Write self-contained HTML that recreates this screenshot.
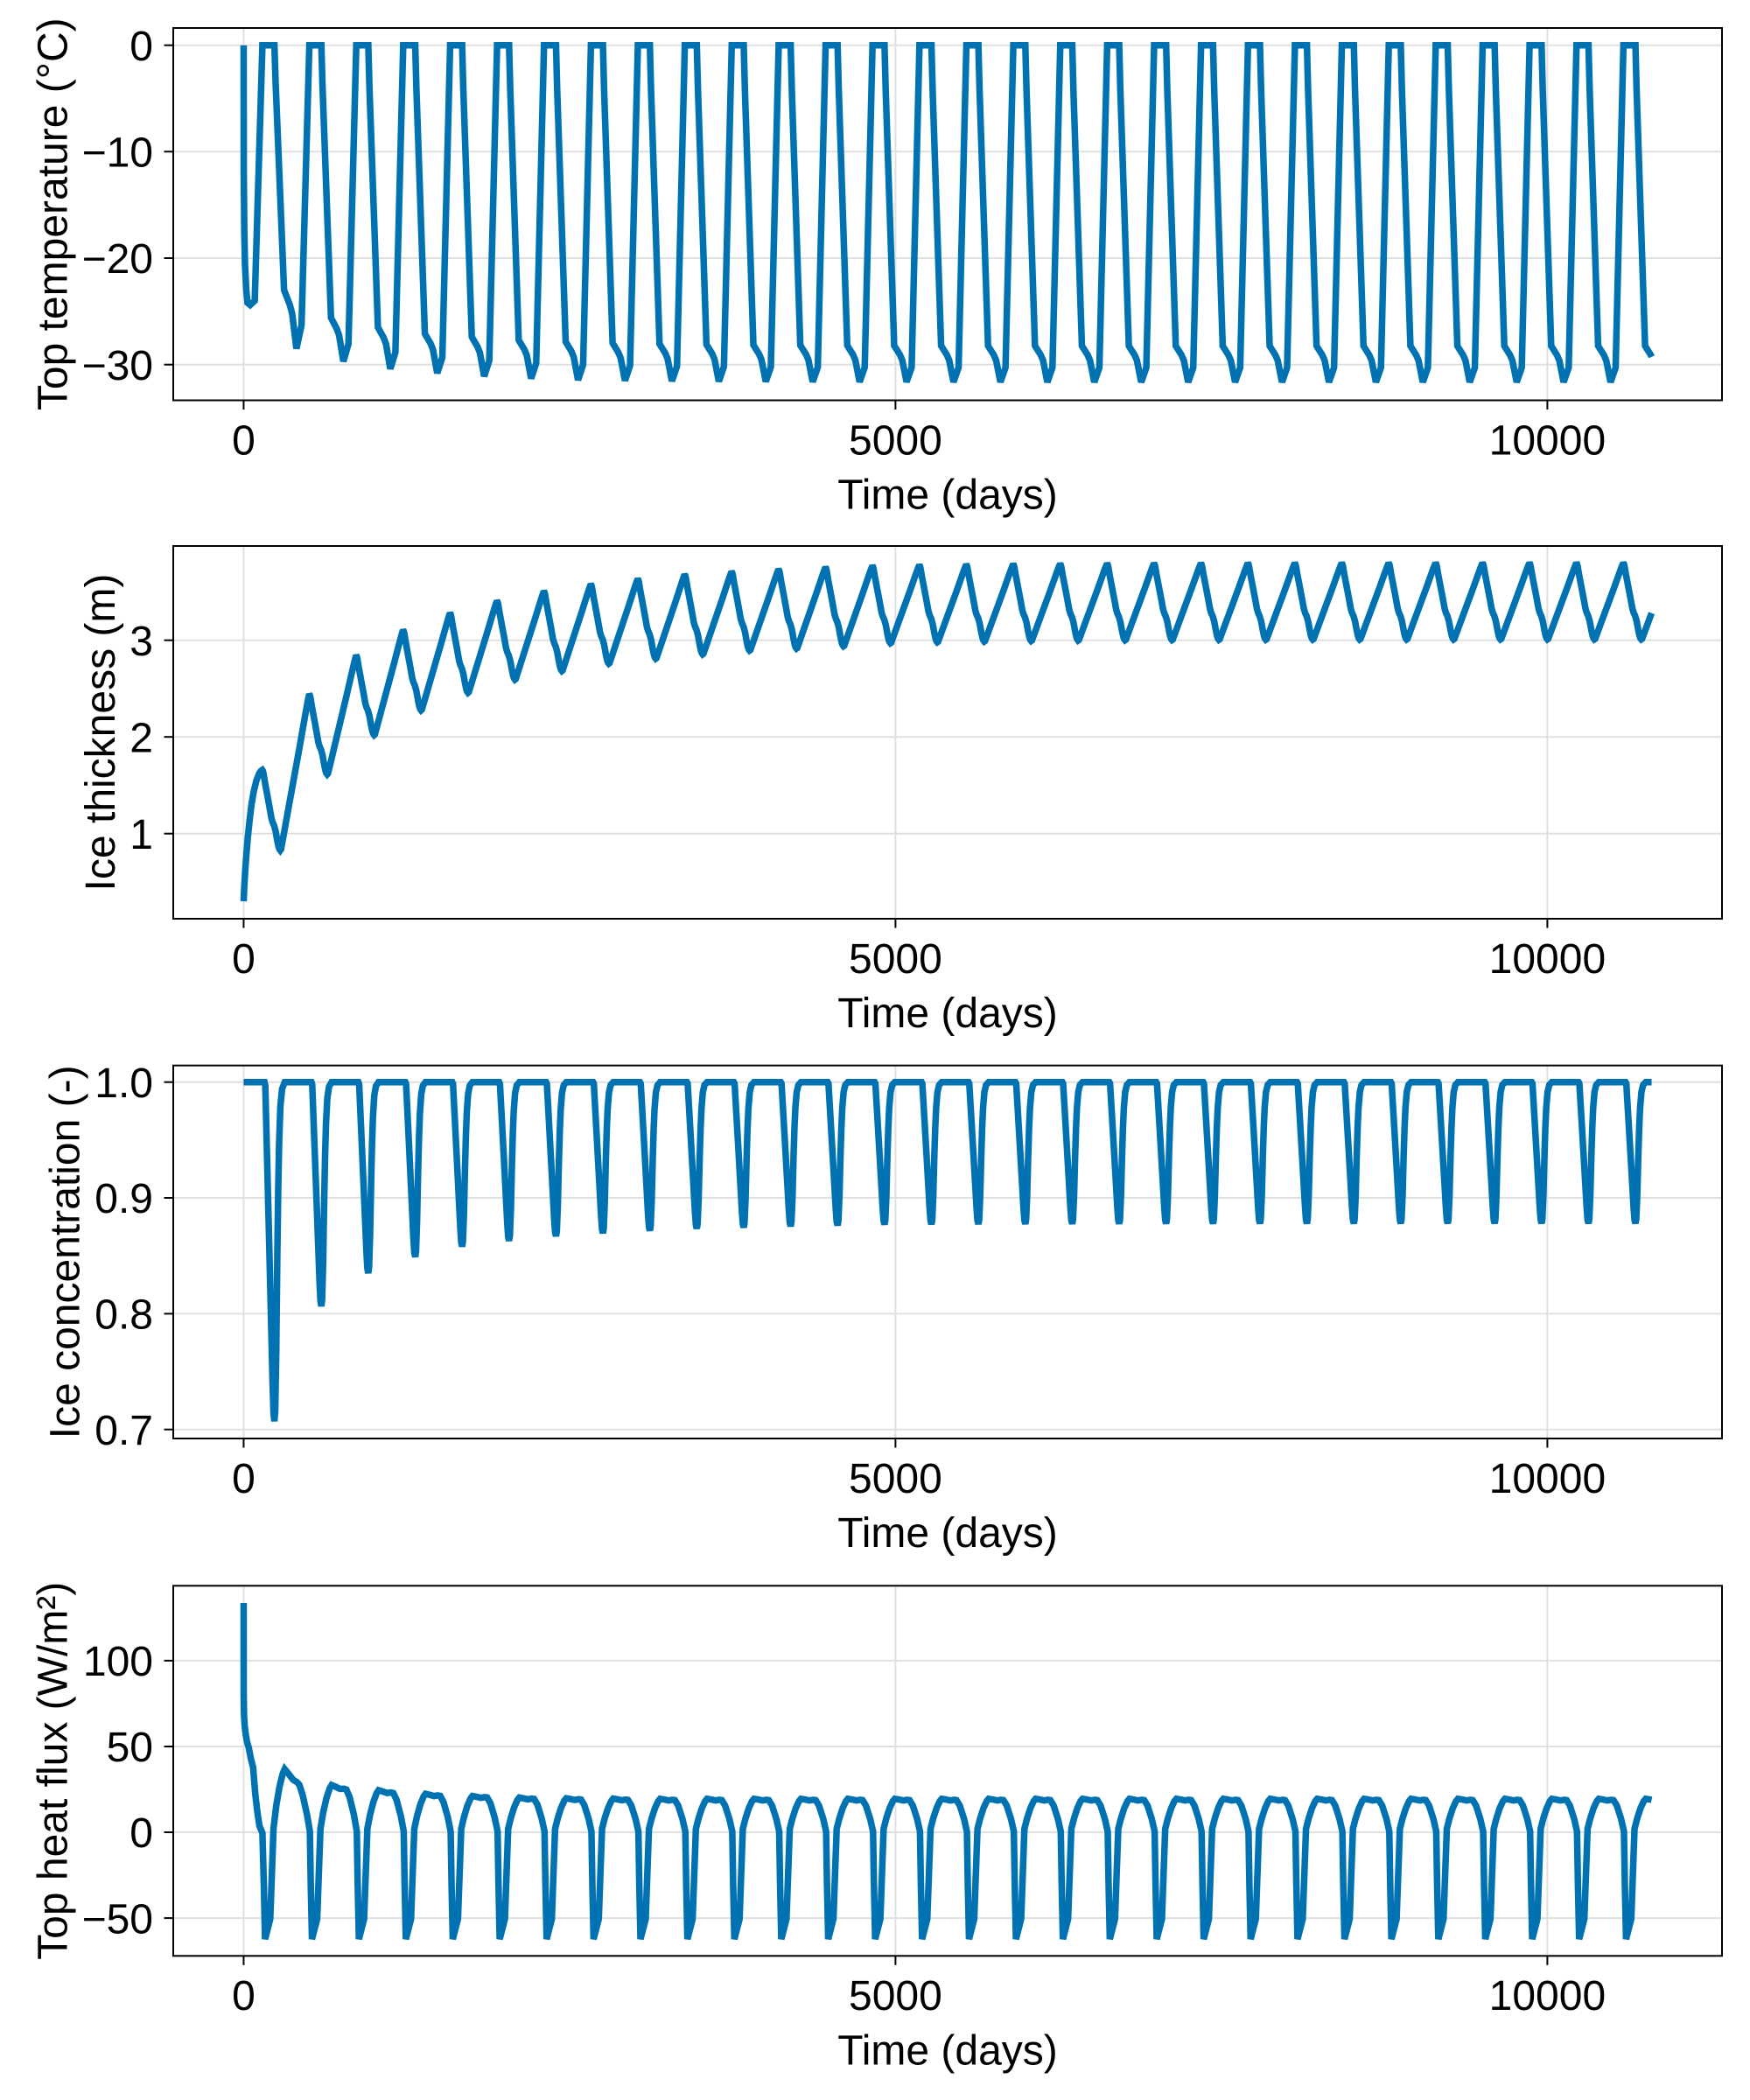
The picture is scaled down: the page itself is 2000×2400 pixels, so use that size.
<!DOCTYPE html>
<html>
<head>
<meta charset="utf-8">
<style>
  html,body{margin:0;padding:0;background:#fff;}
  body{width:2000px;height:2400px;overflow:hidden;}
  svg{display:block;}
  text{font-family:"Liberation Sans",Arial,Helvetica,sans-serif;font-size:48px;fill:#000;}
</style>
</head>
<body>
<svg xmlns="http://www.w3.org/2000/svg" width="2000" height="2400" viewBox="0 0 2000 2400">
  <rect x="0" y="0" width="2000" height="2400" fill="#fff"/>
  <defs>
    <clipPath id="c1"><rect x="198" y="32" width="1770" height="425.5"/></clipPath>
    <clipPath id="c2"><rect x="198" y="624" width="1770" height="426"/></clipPath>
    <clipPath id="c3"><rect x="198" y="1217.7" width="1770" height="426.3"/></clipPath>
    <clipPath id="c4"><rect x="198" y="1812.3" width="1770" height="423"/></clipPath>
  </defs>

  <!-- ===== GRID ===== -->
  <g stroke="#e0e0e0" stroke-width="2" fill="none">
    <line x1="278.45" y1="32" x2="278.45" y2="457.5"/>
    <line x1="1023.4" y1="32" x2="1023.4" y2="457.5"/>
    <line x1="1768.4" y1="32" x2="1768.4" y2="457.5"/>
    <line x1="198" y1="51.7" x2="1968" y2="51.7"/>
    <line x1="198" y1="173.3" x2="1968" y2="173.3"/>
    <line x1="198" y1="295" x2="1968" y2="295"/>
    <line x1="198" y1="416.7" x2="1968" y2="416.7"/>

    <line x1="278.45" y1="624" x2="278.45" y2="1050"/>
    <line x1="1023.4" y1="624" x2="1023.4" y2="1050"/>
    <line x1="1768.4" y1="624" x2="1768.4" y2="1050"/>
    <line x1="198" y1="731.7" x2="1968" y2="731.7"/>
    <line x1="198" y1="842.2" x2="1968" y2="842.2"/>
    <line x1="198" y1="952.7" x2="1968" y2="952.7"/>

    <line x1="278.45" y1="1217.7" x2="278.45" y2="1644"/>
    <line x1="1023.4" y1="1217.7" x2="1023.4" y2="1644"/>
    <line x1="1768.4" y1="1217.7" x2="1768.4" y2="1644"/>
    <line x1="198" y1="1236.7" x2="1968" y2="1236.7"/>
    <line x1="198" y1="1369.0" x2="1968" y2="1369.0"/>
    <line x1="198" y1="1501.4" x2="1968" y2="1501.4"/>
    <line x1="198" y1="1633.7" x2="1968" y2="1633.7"/>

    <line x1="278.45" y1="1812.3" x2="278.45" y2="2235.3"/>
    <line x1="1023.4" y1="1812.3" x2="1023.4" y2="2235.3"/>
    <line x1="1768.4" y1="1812.3" x2="1768.4" y2="2235.3"/>
    <line x1="198" y1="1897.9" x2="1968" y2="1897.9"/>
    <line x1="198" y1="1996.0" x2="1968" y2="1996.0"/>
    <line x1="198" y1="2094.0" x2="1968" y2="2094.0"/>
    <line x1="198" y1="2192.1" x2="1968" y2="2192.1"/>
  </g>

  <!-- ===== DATA ===== -->
  <g fill="none" stroke="#0072b2" stroke-width="7.5" stroke-linejoin="miter" stroke-miterlimit="2" stroke-linecap="butt">
    <path id="s1" clip-path="url(#c1)" d=""/>
    <path id="s2" clip-path="url(#c2)" d=""/>
    <path id="s3" clip-path="url(#c3)" d=""/>
    <path id="s4" clip-path="url(#c4)" d=""/>
  </g>

  <!-- ===== SPINES & TICKS ===== -->
  <g stroke="#000" stroke-width="2" fill="none">
    <rect x="198" y="32" width="1770" height="425.5"/>
    <rect x="198" y="624" width="1770" height="426"/>
    <rect x="198" y="1217.7" width="1770" height="426.3"/>
    <rect x="198" y="1812.3" width="1770" height="423"/>
    <line x1="187.5" y1="51.7" x2="198" y2="51.7"/>
    <line x1="187.5" y1="173.3" x2="198" y2="173.3"/>
    <line x1="187.5" y1="295" x2="198" y2="295"/>
    <line x1="187.5" y1="416.7" x2="198" y2="416.7"/>
    <line x1="187.5" y1="731.7" x2="198" y2="731.7"/>
    <line x1="187.5" y1="842.2" x2="198" y2="842.2"/>
    <line x1="187.5" y1="952.7" x2="198" y2="952.7"/>
    <line x1="187.5" y1="1236.7" x2="198" y2="1236.7"/>
    <line x1="187.5" y1="1369.0" x2="198" y2="1369.0"/>
    <line x1="187.5" y1="1501.4" x2="198" y2="1501.4"/>
    <line x1="187.5" y1="1633.7" x2="198" y2="1633.7"/>
    <line x1="187.5" y1="1897.9" x2="198" y2="1897.9"/>
    <line x1="187.5" y1="1996.0" x2="198" y2="1996.0"/>
    <line x1="187.5" y1="2094.0" x2="198" y2="2094.0"/>
    <line x1="187.5" y1="2192.1" x2="198" y2="2192.1"/>
    <line x1="278.45" y1="457.5" x2="278.45" y2="468"/>
    <line x1="1023.4" y1="457.5" x2="1023.4" y2="468"/>
    <line x1="1768.4" y1="457.5" x2="1768.4" y2="468"/>
    <line x1="278.45" y1="1050" x2="278.45" y2="1060.5"/>
    <line x1="1023.4" y1="1050" x2="1023.4" y2="1060.5"/>
    <line x1="1768.4" y1="1050" x2="1768.4" y2="1060.5"/>
    <line x1="278.45" y1="1644" x2="278.45" y2="1654.5"/>
    <line x1="1023.4" y1="1644" x2="1023.4" y2="1654.5"/>
    <line x1="1768.4" y1="1644" x2="1768.4" y2="1654.5"/>
    <line x1="278.45" y1="2235.3" x2="278.45" y2="2245.8"/>
    <line x1="1023.4" y1="2235.3" x2="1023.4" y2="2245.8"/>
    <line x1="1768.4" y1="2235.3" x2="1768.4" y2="2245.8"/>
  </g>

  <!-- ===== Y TICK LABELS ===== -->
  <g text-anchor="end">
    <text x="175" y="68.9">0</text>
    <text x="175" y="190.5">−10</text>
    <text x="175" y="312.2">−20</text>
    <text x="175" y="433.9">−30</text>

    <text x="175" y="748.9">3</text>
    <text x="175" y="859.4">2</text>
    <text x="175" y="969.9">1</text>

    <text x="175" y="1253.9">1.0</text>
    <text x="175" y="1386.2">0.9</text>
    <text x="175" y="1518.6">0.8</text>
    <text x="175" y="1650.9">0.7</text>

    <text x="175" y="1915.1">100</text>
    <text x="175" y="2013.2">50</text>
    <text x="175" y="2111.2">0</text>
    <text x="175" y="2209.3">−50</text>
  </g>

  <!-- ===== X TICK LABELS ===== -->
  <g text-anchor="middle">
    <text x="278.45" y="519.3">0</text>
    <text x="1023.4" y="519.3">5000</text>
    <text x="1768.4" y="519.3">10000</text>
    <text x="1083" y="581.5">Time (days)</text>

    <text x="278.45" y="1111.8">0</text>
    <text x="1023.4" y="1111.8">5000</text>
    <text x="1768.4" y="1111.8">10000</text>
    <text x="1083" y="1174">Time (days)</text>

    <text x="278.45" y="1705.8">0</text>
    <text x="1023.4" y="1705.8">5000</text>
    <text x="1768.4" y="1705.8">10000</text>
    <text x="1083" y="1768">Time (days)</text>

    <text x="278.45" y="2297.1">0</text>
    <text x="1023.4" y="2297.1">5000</text>
    <text x="1768.4" y="2297.1">10000</text>
    <text x="1083" y="2359.3">Time (days)</text>
  </g>

  <!-- ===== Y AXIS LABELS ===== -->
  <g text-anchor="middle">
    <text transform="translate(76.7,244.75) rotate(-90)">Top temperature (°C)</text>
    <text transform="translate(131,837) rotate(-90)">Ice thickness (m)</text>
    <text transform="translate(90.5,1430.85) rotate(-90)">Ice concentration (-)</text>
    <text transform="translate(76.7,2023.8) rotate(-90)">Top heat flux (W/m²)</text>
  </g>
</svg>

<script>
(function(){
  var L=198,R=1968,T0=-540,T1=11340;
  function X(t){return L+(t-T0)*(R-L)/(T1-T0);}
  function trunc(p,te){
    var o=[];
    for(var i=0;i<p.length;i++){
      var t=p[i][0],v=p[i][1];
      if(t<=te){o.push([t,v]);}
      else{
        var t0=p[i-1][0],v0=p[i-1][1];
        o.push([te,v0+(v-v0)*(te-t0)/(t-t0)]);
        break;
      }
    }
    return o;
  }
  function draw(id,p,top,vmax,s){
    var q=trunc(p,10800),d='';
    for(var i=0;i<q.length;i++){
      d+=(i?'L':'M')+X(q[i][0]).toFixed(2)+' '+(top+(vmax-q[i][1])*s).toFixed(2);
    }
    document.getElementById(id).setAttribute('d',d);
  }

  function tempData(){
    var p=[[0,0],[1,-12],[5,-17.5],[10,-20.5],[20,-23],[30,-24.2],[50,-24.4],[85,-24.0]];
    var Sx=[-23.0,-25.6,-26.5,-27.1,-27.4,-27.7,-27.85];
    var Mx=[-28.5,-29.7,-30.4,-30.8,-31.1,-31.3,-31.45];
    for(var k=0;k<31;k++){
      var B=360*k,w=k+1,S,M;
      if(w<=7){S=Sx[w-1];M=Mx[w-1];}
      else{S=-28.25+0.4*Math.pow(0.7,w-7);M=-31.65+0.2*Math.pow(0.7,w-7);}
      p.push([B+144,0],[B+236,0],[B+245,0.15*S],[B+310,S],[B+354,S+0.25*(M-S)],
             [B+372,S+0.4*(M-S)],[B+405,M],[B+444,M+0.4*(S-M)]);
    }
    return p;
  }

  function thickData(){
    var P0=[1.658,2.443,2.843,3.106,3.281,3.407,3.507,3.579,3.634,3.679,3.709,3.733,3.754,3.769];
    var M0=[0.828,1.613,2.02,2.276,2.457,2.593,2.683,2.759,2.81,2.855,2.894,2.915,2.939,2.97];
    function P(k){return k<14?P0[k]:3.80-0.031*Math.pow(0.75,k-13);}
    function Mn(k){return k<14?M0[k]:3.01-0.04*Math.pow(0.75,k-13);}
    var p=[[0,0.30],[3,0.40],[8,0.53],[14,0.66],[22,0.80],[32,0.96],[45,1.13],[60,1.30],[78,1.44],[98,1.55],[118,1.62],[132,1.648]];
    var desc=[[0,0],[4,0.01],[9,0.04],[20,0.15],[55,0.46],[70,0.60],[80,0.655],[90,0.69],[102,0.76],[115,0.88],[124,0.95],[131,0.985],[138,1.0],[144,0.993]];
    var rise=[[12,0.035],[22,0.08],[50,0.21],[100,0.44],[150,0.67],[190,0.86],[205,0.93],[213,0.965],[218,0.985]];
    for(var k=0;k<31;k++){
      var B=360*k+143,pk=P(k),mk=Mn(k),pn=P(k+1),j;
      for(j=0;j<desc.length;j++){
        var o=desc[j][0],f=desc[j][1];
        if(o<=138)p.push([B+o,pk-(pk-mk)*f]);
        else p.push([B+o,mk+(pn-mk)*(1-f)]);
      }
      for(j=0;j<rise.length;j++)p.push([B+138+rise[j][0],mk+(pn-mk)*rise[j][1]]);
    }
    return p;
  }

  function concData(){
    var m0=[0.7071,0.8065,0.835,0.849,0.858,0.863,0.867,0.8695,0.8717,0.8735,0.8745,0.8755,0.8763,0.877];
    function mn(k){return k<14?m0[k]:0.878-0.001*Math.pow(0.8,k-13);}
    var sh=[[160,0],[166,0.01],[175,0.15],[200,0.54],[222,0.89],[229,0.975],[236,1.0],[242,0.97],
            [250,0.80],[258,0.52],[265,0.32],[272,0.18],[282,0.07],[295,0.02],[315,0]];
    var p=[[0,1]];
    for(var k=0;k<30;k++){
      var B=360*k,D=1-mn(k);
      for(var j=0;j<sh.length;j++)p.push([B+sh[j][0],1-D*sh[j][1]]);
    }
    p.push([10800,1]);
    return p;
  }

  function fluxData(){
    var p=[[0,133.6],[0.5,80],[3,68],[8,62],[14,58],[25,53],[40,49],[55,43],[73,37.7],[89,22.4],[105,12],[121,3.7],[144,-0.5]];
    var A=[36.8,27.5,24.5,22.4,21.1,20.2,19.8,19.6];
    var C=[0.3,0.08,0.04,0.02];
    var hump=[[250,0.42],[275,0.72],[300,0.93],[315,1.0],[345,0.98],[380,0.95],[410,0.97],[428,0.96],[453,0.80],[486,0.40],[508,0.02]];
    for(var k=0;k<31;k++){
      var B=360*k,a=k<8?A[k]:19.5,c=k<4?C[k]:0;
      p.push([B+155,-31],[B+164,-62.3],[B+204,-50.6],[B+229,2]);
      for(var j=0;j<hump.length;j++){
        var d=hump[j][0],pr=Math.min(1,Math.max(0,(d-315)/155));
        p.push([B+d,a*hump[j][1]*(1-c*pr)]);
      }
    }
    return p;
  }

  draw('s1',tempData(),32,1.619,12.1667);
  draw('s2',thickData(),624,3.975,110.5);
  draw('s3',concData(),1217.7,1.01436,1323.3);
  draw('s4',fluxData(),1812.3,143.65,1.961);
})();
</script>
</body>
</html>
